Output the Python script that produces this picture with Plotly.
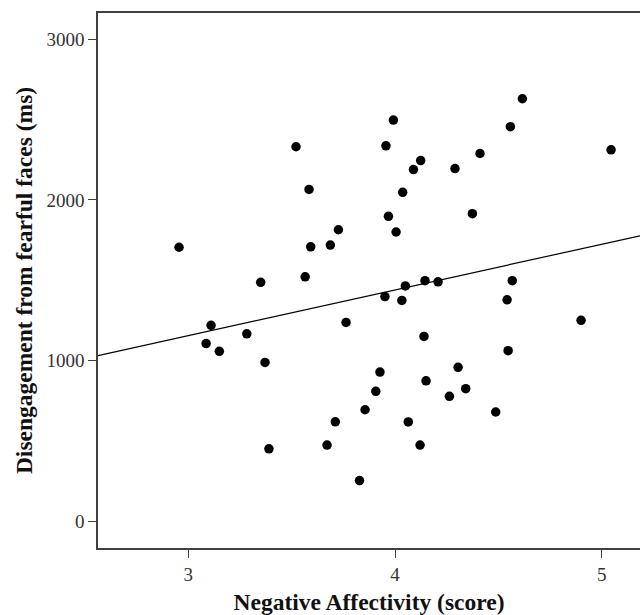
import numpy as np
import plotly.graph_objects as go

# Negative Affectivity (score)
na_score = [2.955, 3.086, 3.110, 3.150, 3.283, 3.350, 3.371, 3.390, 3.521, 3.565,
            3.584, 3.592, 3.671, 3.687, 3.711, 3.726, 3.763, 3.828, 3.855, 3.907,
            3.927, 3.951, 3.956, 3.968, 3.992, 4.005, 4.033, 4.037, 4.050, 4.064,
            4.089, 4.121, 4.124, 4.140, 4.145, 4.150, 4.208, 4.263, 4.290, 4.305,
            4.342, 4.374, 4.411, 4.487, 4.542, 4.547, 4.558, 4.567, 4.616, 4.900,
            5.045]
# Disengagement from fearful faces (ms)
disengagement_ms = [1705, 1105, 1219, 1057, 1166, 1487, 988, 450, 2331, 1521,
                    2065, 1708, 473, 1719, 618, 1814, 1237, 252, 693, 808,
                    928, 1398, 2337, 1898, 2497, 1800, 1374, 2047, 1464, 617,
                    2189, 473, 2245, 1150, 1497, 873, 1490, 777, 2195, 957,
                    824, 1914, 2289, 679, 1378, 1061, 2456, 1497, 2630, 1250,
                    2312]

x_ticks = [3, 4, 5]
y_ticks = [0, 1000, 2000, 3000]
x_range = [2.563, 5.185]
y_range = [-168, 3164]

# least-squares fit line
slope, intercept = np.polyfit(na_score, disengagement_ms, 1)
fit_x = np.array(x_range)
fit_y = slope * fit_x + intercept

fig = go.Figure()
fig.add_trace(go.Scatter(
    x=fit_x, y=fit_y, mode="lines",
    line=dict(color="black", width=1.2),
    hoverinfo="skip", showlegend=False))
fig.add_trace(go.Scatter(
    x=na_score, y=disengagement_ms, mode="markers",
    marker=dict(color="black", size=9.5, line=dict(width=0)),
    showlegend=False))

font_family = "Liberation Serif"
axis_col = "#404040"

fig.update_layout(
    width=640, height=615,
    margin=dict(l=98, r=0, t=13, b=67),
    paper_bgcolor="white", plot_bgcolor="white",
    font=dict(family=font_family, color="#222222"),
    xaxis=dict(
        range=x_range, tickvals=x_ticks, ticktext=[str(v) for v in x_ticks],
        showgrid=False, zeroline=False,
        showline=True, linecolor=axis_col, linewidth=1.5, mirror=True,
        ticks="outside", ticklen=8, tickwidth=1.2, tickcolor=axis_col,
        tickfont=dict(size=19, family=font_family, color="#333333"),
        title=dict(text="<b>Negative Affectivity (score)</b>",
                   font=dict(size=23.5, family=font_family, color="#111111"),
                   standoff=12),
    ),
    yaxis=dict(
        range=y_range, tickvals=y_ticks, ticktext=[str(v) for v in y_ticks],
        showgrid=False, zeroline=False,
        showline=True, linecolor=axis_col, linewidth=1.5, mirror=False,
        ticks="outside", ticklen=8, tickwidth=1.2, tickcolor=axis_col,
        tickfont=dict(size=19, family=font_family, color="#333333"),
        title=dict(text="<b>Disengagement from fearful faces (ms)</b>",
                   font=dict(size=23.5, family=font_family, color="#111111"),
                   standoff=7),
    ),
)

fig.write_html(
    "out.html",
    config={"displayModeBar": False},
    post_script="document.body.style.margin='0';document.body.style.overflow='hidden';",
)
